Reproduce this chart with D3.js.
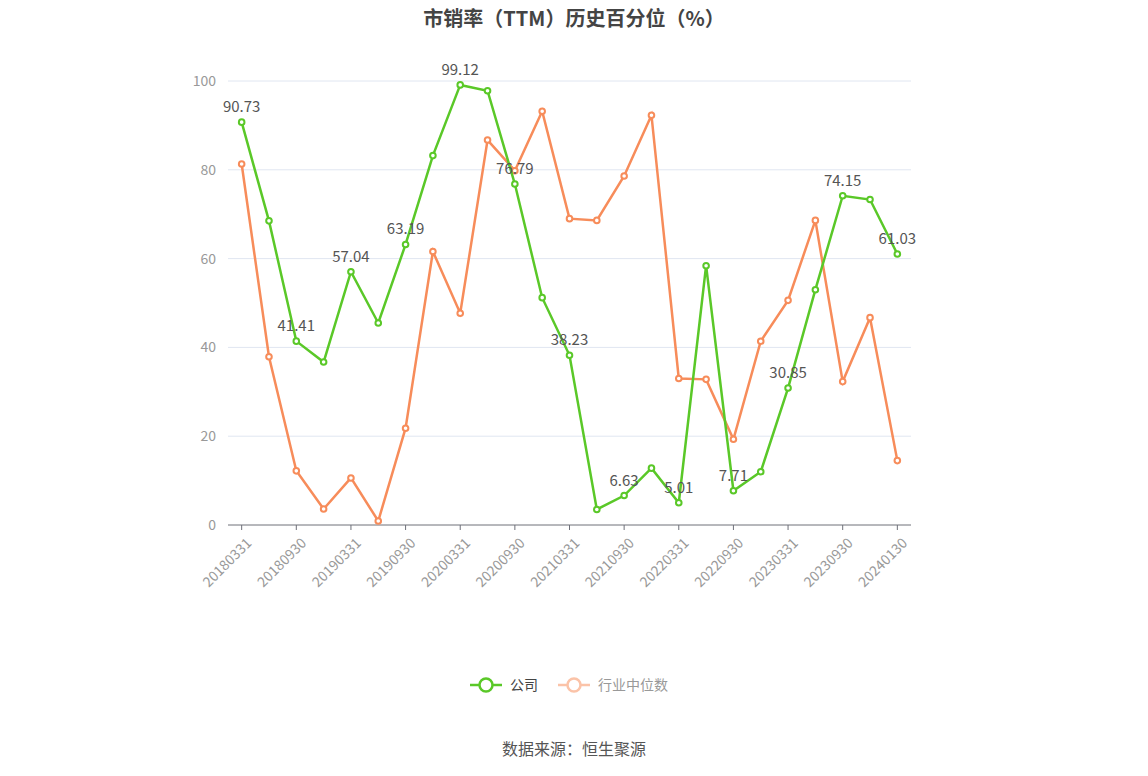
<!DOCTYPE html>
<html><head><meta charset="utf-8">
<script src="https://cdn.jsdelivr.net/npm/d3@7"></script>
<style>body{margin:0;background:#fff;font-family:"Noto Sans CJK SC","Noto Sans",sans-serif}</style>
</head><body><svg id="c" width="1148" height="776"></svg>
<script>
const categories=["20180331","20180630","20180930","20181231","20190331","20190630","20190930","20191231","20200331","20200630","20200930","20201231","20210331","20210630","20210930","20211231","20220331","20220630","20220930","20221231","20230331","20230630","20230930","20231231","20240130"];
const company=[90.73,68.5,41.41,36.7,57.04,45.5,63.19,83.2,99.12,97.8,76.79,51.2,38.23,3.5,6.63,12.8,5.01,58.4,7.71,12.0,30.85,53.0,74.15,73.3,61.03];
const industry=[81.3,37.9,12.2,3.6,10.6,0.9,21.8,61.6,47.7,86.7,79.8,93.2,69.0,68.6,78.6,92.3,33.0,32.8,19.3,41.4,50.6,68.6,32.3,46.7,14.5];
const labelIdx=[0,2,4,6,8,10,12,14,16,18,20,22,24];
const yTicks=[0,20,40,60,80,100];
const svg=d3.select("#c");
const L=228,R=911,T=81,B=525;
const x=d3.scaleBand().domain(categories).range([L,R]);
const cx=d=>x(d)+x.bandwidth()/2;
const y=d3.scaleLinear().domain([0,100]).range([B,T]);
svg.append("text").attr("x",574).attr("y",26).attr("text-anchor","middle").attr("font-size",20).attr("font-weight","bold").attr("fill","#444").text("市销率（TTM）历史百分位（%）");
yTicks.forEach(t=>{
 if(t>0)svg.append("line").attr("x1",L).attr("x2",R).attr("y1",y(t)).attr("y2",y(t)).attr("stroke","#e0e6f1");
 svg.append("text").attr("x",L-12).attr("y",y(t)+5).attr("text-anchor","end").attr("font-size",14).attr("fill","#999").text(t);
});
svg.append("line").attr("x1",L).attr("x2",R).attr("y1",B).attr("y2",B).attr("stroke","#6e7079");
categories.forEach((c,i)=>{
 if(i%2)return;
 svg.append("line").attr("x1",cx(c)).attr("x2",cx(c)).attr("y1",B).attr("y2",B+5).attr("stroke","#6e7079");
 svg.append("text").attr("transform",`translate(${cx(c)+4},${B+12}) rotate(-45)`).attr("text-anchor","end").attr("font-size",14).attr("fill","#999").attr("dy","0.7em").text(c);
});
function series(vals,color){
 svg.append("path").datum(vals).attr("fill","none").attr("stroke",color).attr("stroke-width",2.5)
  .attr("d",d3.line().x((d,i)=>cx(categories[i])).y(d=>y(d)));
 svg.selectAll(null).data(vals).enter().append("circle").attr("cx",(d,i)=>cx(categories[i])).attr("cy",d=>y(d)).attr("r",2.8).attr("fill","#fff").attr("stroke",color).attr("stroke-width",2);
}
series(industry,"#f78c5a");
series(company,"#5ac828");
labelIdx.forEach(i=>{
 svg.append("text").attr("x",cx(categories[i])).attr("y",y(company[i])-10).attr("text-anchor","middle").attr("font-size",15).attr("fill","#555").text(company[i]);
});
// legend
const lg=svg.append("g");
lg.append("line").attr("x1",470).attr("x2",502).attr("y1",685).attr("y2",685).attr("stroke","#5ac828").attr("stroke-width",2.5);
lg.append("circle").attr("cx",486).attr("cy",685).attr("r",6.5).attr("fill","#fff").attr("stroke","#5ac828").attr("stroke-width",2.5);
lg.append("text").attr("x",510).attr("y",690).attr("font-size",14).attr("fill","#444").text("公司");
lg.append("line").attr("x1",558).attr("x2",590).attr("y1",685).attr("y2",685).attr("stroke","#fbc3a8").attr("stroke-width",2.5);
lg.append("circle").attr("cx",574).attr("cy",685).attr("r",6.5).attr("fill","#fff").attr("stroke","#fbc3a8").attr("stroke-width",2.5);
lg.append("text").attr("x",598).attr("y",690).attr("font-size",14).attr("fill","#999").text("行业中位数");
svg.append("text").attr("x",574).attr("y",755).attr("text-anchor","middle").attr("font-size",16).attr("fill","#555").text("数据来源：恒生聚源");
</script></body></html>
